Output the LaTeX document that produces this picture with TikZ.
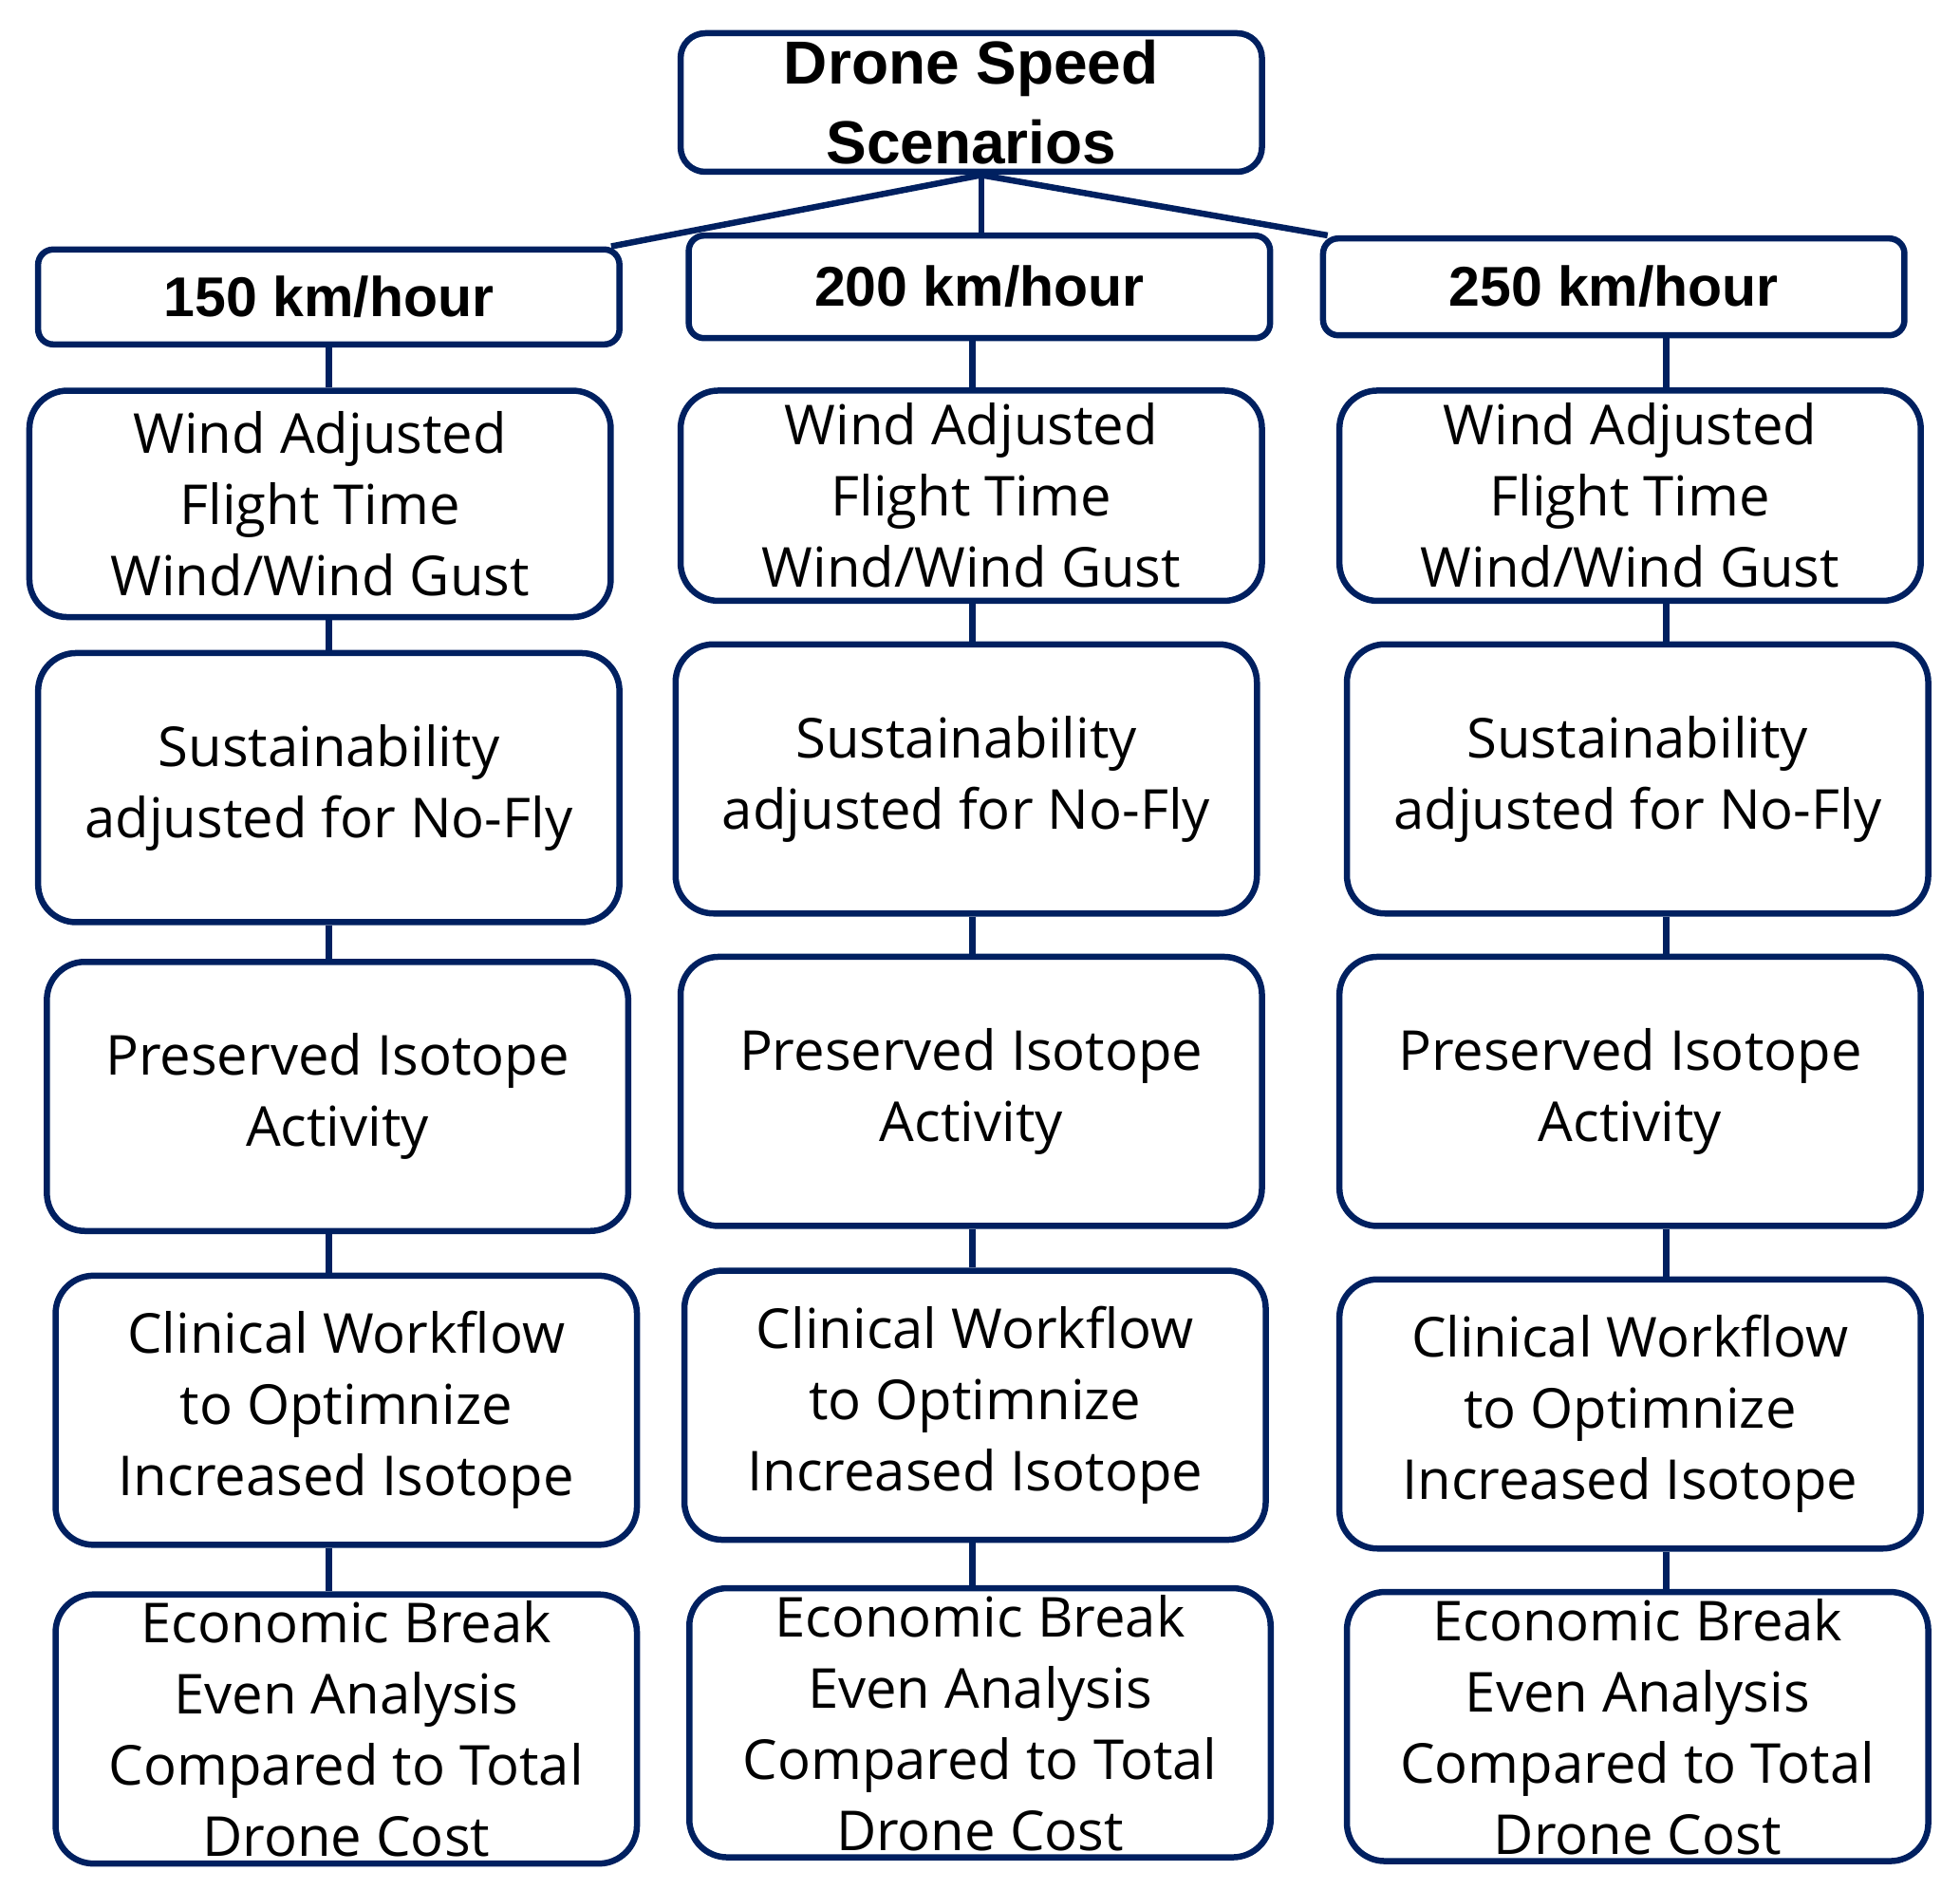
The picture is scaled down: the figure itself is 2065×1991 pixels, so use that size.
\documentclass[tikz,border=0pt]{standalone}
\usepackage{fontspec}
\setmainfont{Open Sans}
\newfontfamily\headfont{Liberation Sans}
\definecolor{navy}{RGB}{0,32,96}
\tikzset{
  box/.style={draw=navy, line width=6.5pt, rounded corners=40pt, align=center, inner sep=0pt,
    minimum width=612.5pt, minimum height=283.5pt, font=\fontsize{58}{75}\selectfont},
  speedbox/.style={box, rounded corners=16pt, font=\headfont\bfseries\fontsize{59}{70}\selectfont},
  link/.style={draw=navy, line width=6.5pt}
}
\begin{document}
\begin{tikzpicture}[x=1pt,y=-1pt]
\useasboundingbox (0,0) rectangle (2065,1991);
% top
\node[box, rounded corners=26pt, minimum height=146pt, font=\headfont\bfseries\fontsize{64}{84}\selectfont] (top) at (1023.3,108) {Drone Speed\\Scenarios};
% level 1
\node[speedbox, minimum height=100pt] (L1) at (346.4,312.8) {150 km/hour};
\node[speedbox, minimum height=108pt] (L2) at (1031.9,302.2) {200 km/hour};
\node[speedbox, minimum height=102pt] (L3) at (1700.2,302.2) {250 km/hour};
% column 1
\node[box, minimum height=238.5pt] (W1) at (337.2,530.8) {Wind Adjusted\\Flight Time\\Wind/Wind Gust};
\node[box] (S1) at (346.4,829.7) {Sustainability\\adjusted for No-Fly};
\node[box] (P1) at (355.6,1155) {Preserved Isotope\\Activity};
\node[box] (C1) at (364.8,1485.6) {Clinical Workflow\\to Optimnize\\Increased Isotope};
\node[box] (E1) at (364.8,1821.4) {Economic Break\\Even Analysis\\Compared to Total\\Drone Cost};
% column 2
\node[box, minimum height=221.5pt] (W2) at (1023.3,522.2) {Wind Adjusted\\Flight Time\\Wind/Wind Gust};
\node[box] (S2) at (1018,820.5) {Sustainability\\adjusted for No-Fly};
\node[box] (P2) at (1023.3,1149.7) {Preserved Isotope\\Activity};
\node[box] (C2) at (1027.3,1480.3) {Clinical Workflow\\to Optimnize\\Increased Isotope};
\node[box] (E2) at (1032.5,1814.8) {Economic Break\\Even Analysis\\Compared to Total\\Drone Cost};
% column 3
\node[box, minimum height=221.5pt] (W3) at (1717.4,522.2) {Wind Adjusted\\Flight Time\\Wind/Wind Gust};
\node[box] (S3) at (1725.3,820.5) {Sustainability\\adjusted for No-Fly};
\node[box] (P3) at (1717.4,1149.7) {Preserved Isotope\\Activity};
\node[box] (C3) at (1717.4,1489.5) {Clinical Workflow\\to Optimnize\\Increased Isotope};
\node[box] (E3) at (1725.3,1818.8) {Economic Break\\Even Analysis\\Compared to Total\\Drone Cost};
% connector columns
\coordinate (X1) at (346.4,0);
\coordinate (X2) at (1024.6,0);
\coordinate (X3) at (1755.6,0);
\coordinate (hub) at (1033.8,184.4);
% top connectors
\draw[link] (hub) -- ([xshift=-12pt]L1.north east);
\draw[link] (hub) -- (L2.north -| hub);
\draw[link] (hub) -- ([xshift=8pt]L3.north west);
% column connectors
\foreach \c in {1,2,3}{
  \draw[link] (L\c.south -| X\c) -- (W\c.north -| X\c);
  \draw[link] (W\c.south -| X\c) -- (S\c.north -| X\c);
  \draw[link] (S\c.south -| X\c) -- (P\c.north -| X\c);
  \draw[link] (P\c.south -| X\c) -- (C\c.north -| X\c);
  \draw[link] (C\c.south -| X\c) -- (E\c.north -| X\c);
}
\end{tikzpicture}
\end{document}
